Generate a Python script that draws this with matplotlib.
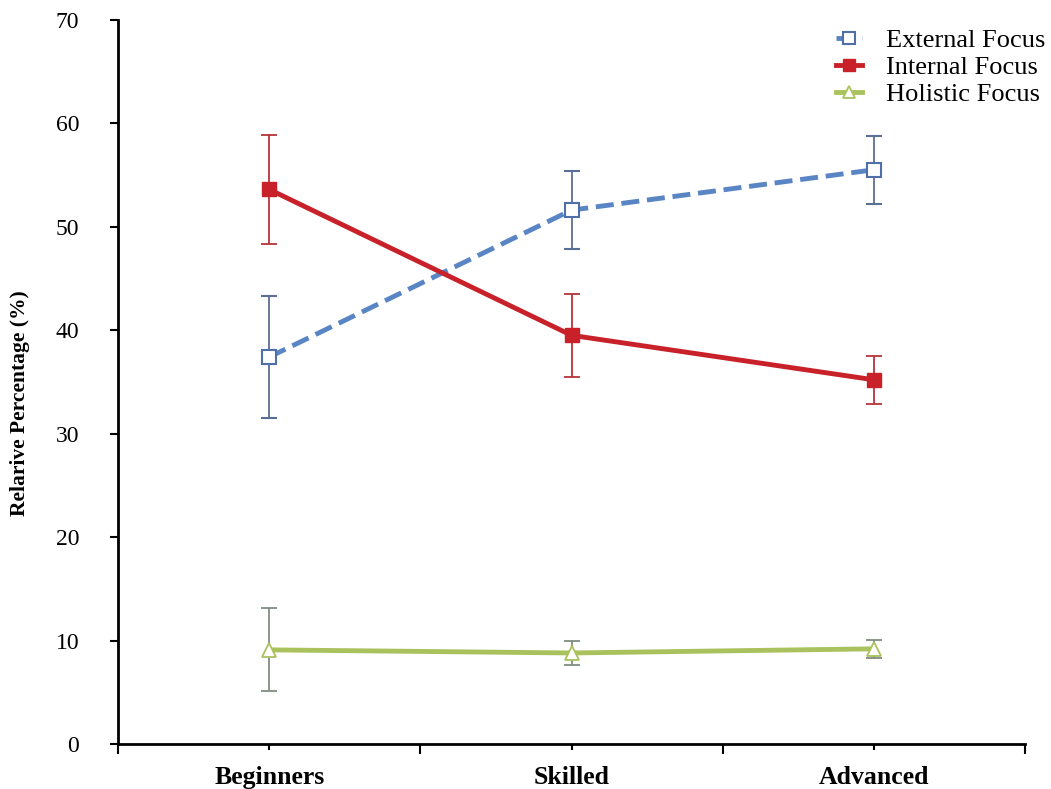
import matplotlib.pyplot as plt
import numpy as np

groups = ['Beginners', 'Skilled', 'Advanced']
external = [37.4, 51.6, 55.5]
external_err = [5.9, 3.8, 3.3]
internal = [53.6, 39.5, 35.2]
internal_err = [5.3, 4.0, 2.3]
holistic = [9.1, 8.8, 9.2]
holistic_err = [4.0, 1.2, 0.9]

plt.rcParams['font.family'] = ['Liberation Serif', 'DejaVu Serif']

fig = plt.figure(figsize=(10.51, 7.89), dpi=100)
ax = fig.add_axes([0.1123, 0.057, 0.863, 0.918])

x = np.arange(len(groups))

e1 = ax.errorbar(x, external, yerr=external_err, color='#5A85C4', ls='--', lw=3.5,
                 marker='s', ms=10, mfc='white', mec='#4E6FA8', mew=1.5,
                 ecolor='#5A6F95', elinewidth=1.3, capsize=6, capthick=1.3, zorder=3)
e2 = ax.errorbar(x, internal, yerr=internal_err, color='#C82129', ls='-', lw=3.5,
                 marker='s', ms=10, mfc='#C82129', mec='#C82129',
                 ecolor='#B8333A', elinewidth=1.3, capsize=6, capthick=1.3, zorder=3)
e3 = ax.errorbar(x, holistic, yerr=holistic_err, color='#A9C25E', ls='-', lw=3.5,
                 marker='^', ms=10, mfc='white', mec='#A9C25E', mew=1.3,
                 ecolor='#7F8F80', elinewidth=1.3, capsize=6, capthick=1.3, zorder=3)

ax.set_xlim(-0.5, 2.5)
ax.set_ylim(0, 70)
ax.set_yticks(np.arange(0, 71, 10))
ax.set_xticks([-0.5, 0.5, 1.5, 2.5])
ax.set_xticklabels([])
ax.set_xticks(x, minor=True)
ax.set_xticklabels(groups, minor=True, fontsize=18.5, fontweight='bold')
ax.tick_params(axis='x', which='major', direction='out', length=7, width=1.5)
ax.tick_params(axis='x', which='minor', direction='out', length=4, width=1.5, pad=12)
ax.tick_params(axis='y', direction='out', length=6, width=1.5, labelsize=17, pad=22)

for s in ['top', 'right']:
    ax.spines[s].set_visible(False)
for s in ['left', 'bottom']:
    ax.spines[s].set_linewidth(2)

ax.set_ylabel('Relarive Percentage (%)', fontsize=15.5, fontweight='bold')
ax.yaxis.set_label_coords(-0.097, 0.47)

fig.legend([e1[0], e2[0], e3[0]], ['External Focus', 'Internal Focus', 'Holistic Focus'],
           loc='upper left', bbox_to_anchor=(836 / 1051, 1 - 29 / 789), frameon=False,
           fontsize=19, handlelength=1.0, handletextpad=0.9, labelspacing=0.12,
           borderpad=0, borderaxespad=0, markerscale=0.8)

fig.savefig('out.png', dpi=100)
